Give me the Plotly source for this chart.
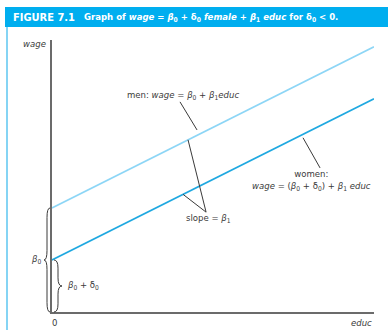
"""Figure 7.1 - graph of wage = b0 + d0 female + b1 educ for d0 < 0."""

import numpy as np
import plotly.graph_objects as go

# data: two parallel wage lines (men / women), same slope, lower intercept for women
educ = [0, 20]
men_wage = [2.0, 5.1]
women_wage = [1.0, 4.1]
beta0 = men_wage[0]
beta0_delta0 = women_wage[0]

W, H = 388, 330
ML, MR, MT, MB = 52, 14, 40, 18
X_MAX = 20
Y_TOP = 5.23

AXIS = "#6b6b6b"
TEXT = "#3a3a3a"
MEN_C = "#8dd6f6"
WOMEN_C = "#1fa8e0"
BAND = "#00aeef"
FONT = "DejaVu Sans Condensed, Liberation Sans Narrow, sans-serif"


def paper_x(p):
    # pixel column -> paper x
    return (p - ML) / (W - ML - MR)


def paper_y(p):
    # pixel row -> paper y
    return (H - MB - p) / (H - MT - MB)


def brace(xb, xt, y0, y1, r=0.05):
    """Curly brace path in paper coords: back at xb, tip at xt, spanning y0..y1."""
    xm = (xb + xt) / 2
    mid = (y0 + y1) / 2
    return (f"M{xb},{y0} Q{xm},{y0} {xm},{y0 + r} L{xm},{mid - r} "
            f"Q{xm},{mid} {xt},{mid} Q{xm},{mid} {xm},{mid + r} "
            f"L{xm},{y1 - r} Q{xm},{y1} {xb},{y1}")


def on_line(x, ys):
    return float(np.interp(x, educ, ys))


fig = go.Figure()
fig.add_trace(go.Scatter(x=educ, y=men_wage, mode="lines",
                         line=dict(color=MEN_C, width=1.6), hoverinfo="skip"))
fig.add_trace(go.Scatter(x=educ, y=women_wage, mode="lines",
                         line=dict(color=WOMEN_C, width=1.6), hoverinfo="skip"))

shapes = [
    # title band and left rule
    dict(type="rect", xref="paper", yref="paper", layer="below",
         x0=paper_x(5), x1=paper_x(W + 2), y0=paper_y(27), y1=paper_y(7),
         fillcolor=BAND, line=dict(width=0)),
    dict(type="line", xref="paper", yref="paper",
         x0=paper_x(7), x1=paper_x(7), y0=paper_y(27), y1=paper_y(H + 2),
         line=dict(color="#5cc6f0", width=1.5)),
    # pointer lines
    dict(type="line", x0=7.95, y0=4.04, x1=9.01, y1=3.5,
         line=dict(color=TEXT, width=1)),
    dict(type="line", x0=9.57, y0=1.92, x1=8.45, y1=on_line(8.45, men_wage),
         line=dict(color=TEXT, width=1)),
    dict(type="line", x0=9.57, y0=1.92, x1=8.14, y1=on_line(8.14, women_wage),
         line=dict(color=TEXT, width=1)),
    dict(type="line", x0=15.59, y0=3.35, x1=16.65, y1=2.77,
         line=dict(color=TEXT, width=1)),
    # braces
    dict(type="path", xref="paper", yref="paper",
         path=brace(paper_x(50), paper_x(44), 0, beta0 / Y_TOP, r=0.035),
         line=dict(color=TEXT, width=1)),
    dict(type="path", xref="paper", yref="paper",
         path=brace(paper_x(54), paper_x(62), 0, beta0_delta0 / Y_TOP, r=0.03),
         line=dict(color=TEXT, width=1)),
]

ann = dict(showarrow=False, yanchor="middle",
           font=dict(family=FONT, size=9.5, color=TEXT))
annotations = [
    dict(xref="paper", yref="paper", x=paper_x(11), y=paper_y(17),
         xanchor="left", yanchor="middle", showarrow=False,
         text="<b>FIGURE 7.1</b>",
         font=dict(family=FONT, size=11, color="white")),
    dict(xref="paper", yref="paper", x=paper_x(82), y=paper_y(17),
         xanchor="left", yanchor="middle", showarrow=False,
         text="<b>Graph of <i>wage</i> = <i>β</i><sub>0</sub> + δ<sub>0</sub> "
              "<i>female</i> + <i>β</i><sub>1</sub> <i>educ</i> for "
              "δ<sub>0</sub> &lt; 0.</b>",
         font=dict(family=FONT, size=9.5, color="white")),
    dict(x=8.14, y=4.17, xanchor="center",
         text="men: <i>wage</i> = <i>β</i><sub>0</sub> + <i>β</i><sub>1</sub><i>educ</i>", **ann),
    dict(x=9.69, y=1.79, xanchor="center", text="slope = <i>β</i><sub>1</sub>", **ann),
    dict(x=16.09, y=2.52, xanchor="center",
         text="women:<br><i>wage</i> = (<i>β</i><sub>0</sub> + δ<sub>0</sub>) + <i>β</i><sub>1</sub> <i>educ</i>",
         **ann),
    dict(xref="paper", yref="paper", x=paper_x(43), y=beta0 / 2 / Y_TOP,
         xanchor="right", text="<i>β</i><sub>0</sub>", **ann),
    dict(xref="paper", yref="paper", x=paper_x(66), y=beta0_delta0 / 2 / Y_TOP,
         xanchor="left", text="<i>β</i><sub>0</sub> + δ<sub>0</sub>", **ann),
    dict(xref="paper", yref="paper", x=paper_x(48), y=paper_y(44),
         xanchor="right", text="<i>wage</i>", **ann),
    dict(xref="paper", yref="paper", x=paper_x(54), y=paper_y(322),
         xanchor="center", text="0", **ann),
    dict(xref="paper", yref="paper", x=1, y=paper_y(322),
         xanchor="right", text="<i>educ</i>", **ann),
]

fig.update_layout(
    width=W, height=H,
    margin=dict(l=ML, r=MR, t=MT, b=MB),
    paper_bgcolor="white", plot_bgcolor="white",
    showlegend=False,
    shapes=shapes,
    annotations=annotations,
)
fig.update_xaxes(range=[0, X_MAX], showline=True, linecolor=AXIS, linewidth=1.5,
                 showgrid=False, zeroline=False, showticklabels=False, ticks="")
fig.update_yaxes(range=[0, Y_TOP], showline=True, linecolor=AXIS, linewidth=1.5,
                 showgrid=False, zeroline=False, showticklabels=False, ticks="")

fig.write_html("out.html", config=dict(displayModeBar=False),
               post_script="document.body.style.margin='0';")
